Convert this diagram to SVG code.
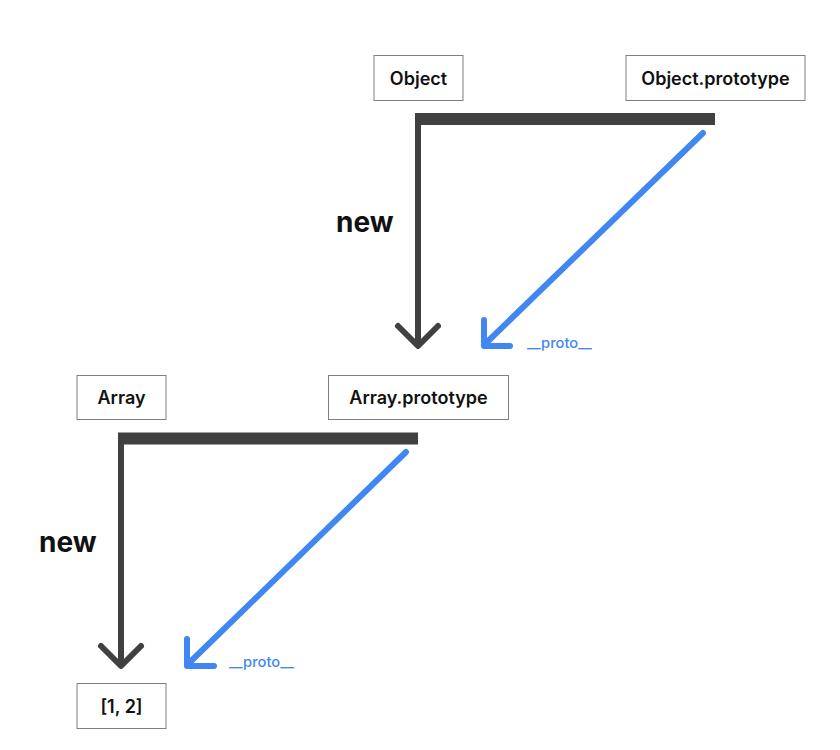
<svg xmlns="http://www.w3.org/2000/svg" width="840" height="750" viewBox="0 0 840 750">
<style>
.box{fill:#fff;stroke:#7f7f7f;stroke-width:1}
.lbl{font-family:Inter,"Liberation Sans",sans-serif;font-size:18px;font-weight:600;fill:#111;text-anchor:middle;dominant-baseline:central}
.new{font-family:Inter,"Liberation Sans",sans-serif;font-size:28px;font-weight:700;fill:#111}
.proto{font-family:Inter,"Liberation Sans",sans-serif;font-size:14.7px;font-weight:500;fill:#4087f2}
.dark{fill:none;stroke:#404040;stroke-width:6}
.darkhead{fill:none;stroke:#404040;stroke-width:6;stroke-linecap:round;stroke-linejoin:round}
.blue{fill:none;stroke:#4087f2;stroke-width:6;stroke-linecap:round;stroke-linejoin:round}
.bar{fill:#404040}
</style>
<rect width="840" height="750" fill="#fff"/>
<g id="connectors">
  <rect class="bar" x="415" y="113" width="300" height="12"/>
  <line class="dark" x1="418" y1="113" x2="418" y2="344"/>
  <polyline class="darkhead" points="398,326 418,346 438,326"/>
  <line class="blue" x1="703" y1="133" x2="484" y2="345"/>
  <polyline class="blue" points="484,320 484,346 510,346"/>
  <text class="new" x="336" y="232">new</text>
  <text class="proto" x="527" y="348">__proto__</text>

  <rect class="bar" x="118" y="432.5" width="300" height="12"/>
  <line class="dark" x1="121" y1="433" x2="121" y2="664"/>
  <polyline class="darkhead" points="101,646 121,666 141,646"/>
  <line class="blue" x1="406" y1="452" x2="187" y2="665"/>
  <polyline class="blue" points="187,639 187,666 214,666"/>
  <text class="new" x="39" y="552">new</text>
  <text class="proto" x="229" y="667">__proto__</text>
</g>
<g id="object">
  <rect class="box" x="374" y="55.5" width="89" height="45"/>
  <text class="lbl" x="418.5" y="78">Object</text>
</g>
<g id="object-prototype">
  <rect class="box" x="626" y="55.5" width="179" height="45"/>
  <text class="lbl" x="715.5" y="78">Object.prototype</text>
</g>
<g id="array">
  <rect class="box" x="77" y="375.5" width="89" height="44"/>
  <text class="lbl" x="121.5" y="397.5">Array</text>
</g>
<g id="array-prototype">
  <rect class="box" x="328.5" y="375.5" width="180" height="44"/>
  <text class="lbl" x="418.5" y="397.5">Array.prototype</text>
</g>
<g id="instance">
  <rect class="box" x="77" y="683.5" width="89" height="45"/>
  <text class="lbl" x="121.5" y="706">[1, 2]</text>
</g>
</svg>
